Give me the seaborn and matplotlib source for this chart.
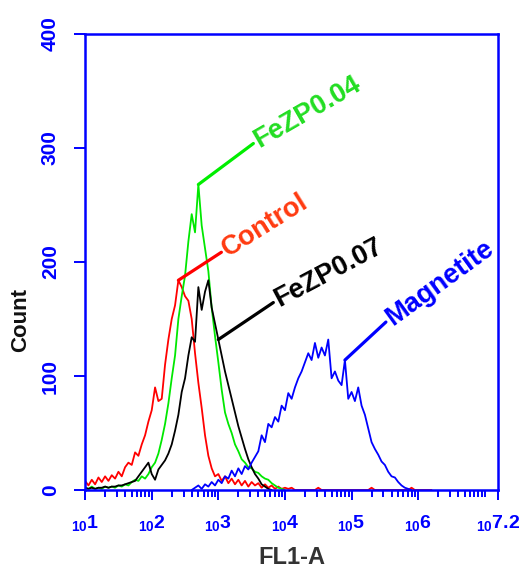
import numpy as np
import pandas as pd
import matplotlib
matplotlib.use("Agg")
import matplotlib.pyplot as plt
import matplotlib.ticker as mticker
import seaborn as sns

# Flow cytometry histograms: counts per channel, channels spaced 0.05 decade apart
CHANNEL_STEP = 0.05

control_start = 1.00
control_counts = [8, 4, 9, 5, 11, 7, 12, 8, 13, 10, 16, 12, 20, 24, 22, 33, 30, 40,
                  48, 60, 70, 90, 78, 80, 110, 132, 150, 162, 184, 178, 170, 166,
                  150, 120, 94, 72, 48, 30, 19, 12, 14, 8, 12, 6, 10, 5, 9, 4, 8, 3,
                  7, 4, 6, 2, 5, 2, 4, 1, 3, 1, 2, 1, 2, 0, 0, 0, 0, 0, 0, 0, 2, 0,
                  0, 0, 0, 0, 0, 0, 0, 0, 0, 0, 0, 0, 0, 0, 2, 0, 0, 0, 0, 0, 0, 0,
                  0, 0, 0, 0, 2, 0, 0, 0, 0, 0, 0]

fezp004_start = 1.00
fezp004_counts = [2, 1, 3, 1, 2, 1, 3, 2, 3, 2, 4, 3, 5, 4, 7, 9, 8, 12, 10, 14, 20,
                  24, 32, 44, 58, 76, 98, 118, 150, 170, 188, 218, 242, 226, 268,
                  232, 212, 192, 160, 135, 112, 88, 68, 58, 50, 40, 34, 27, 24, 20,
                  19, 16, 15, 12, 10, 9, 6, 4, 2, 1, 0]

fezp007_start = 1.00
fezp007_counts = [2, 1, 2, 1, 2, 2, 3, 2, 3, 3, 4, 4, 5, 6, 7, 8, 12, 16, 20, 24, 14,
                  9, 18, 22, 26, 32, 40, 52, 66, 86, 98, 118, 134, 130, 178, 158,
                  174, 184, 160, 146, 132, 118, 104, 92, 80, 68, 56, 46, 36, 27, 20,
                  14, 10, 5, 3, 1, 0]

magnetite_start = 2.60
magnetite_counts = [0, 2, 4, 1, 5, 3, 7, 4, 9, 6, 12, 10, 17, 12, 19, 14, 21, 18, 24,
                    29, 34, 48, 42, 58, 55, 64, 60, 74, 70, 85, 80, 90, 98, 104, 112,
                    120, 114, 129, 116, 125, 118, 132, 98, 104, 96, 92, 114, 80, 86,
                    78, 90, 74, 66, 54, 42, 36, 31, 25, 22, 16, 12, 11, 7, 4, 2, 1, 0]

samples = ["Control", "FeZP0.04", "FeZP0.07", "Magnetite"]
starts = [control_start, fezp004_start, fezp007_start, magnetite_start]
counts = [control_counts, fezp004_counts, fezp007_counts, magnetite_counts]
line_colors = ["#ff0000", "#00e800", "#000000", "#0000ff"]
text_colors = ["#ff3a10", "#22dd22", "#000000", "#0000ff"]

frames = []
for name, start, cnt in zip(samples, starts, counts):
    exps = start + CHANNEL_STEP * np.arange(len(cnt))
    frames.append(pd.DataFrame({"fl1a": 10.0 ** exps, "count": cnt, "sample": name}))
df = pd.concat(frames, ignore_index=True)

sns.set_style("ticks")
plt.rcParams["font.family"] = ["Liberation Sans", "DejaVu Sans"]
plt.rcParams["mathtext.fontset"] = "custom"
plt.rcParams["mathtext.rm"] = "Liberation Sans:bold"
plt.rcParams["mathtext.it"] = "Liberation Sans:bold"
plt.rcParams["mathtext.bf"] = "Liberation Sans:bold"

BLUE = "#0000ff"

fig = plt.figure(figsize=(5.19, 5.68), dpi=100)
ax = fig.add_axes([0.164, 0.1373, 0.7958, 0.8028])

sns.lineplot(data=df, x="fl1a", y="count", hue="sample", hue_order=samples,
             palette=dict(zip(samples, line_colors)), estimator=None, sort=False,
             legend=False, lw=1.3, ax=ax)

ax.set_xscale("log")
ax.set_xlim(10 ** 1, 10 ** 7.2)
ax.set_ylim(0, 400)

# spines: full blue box
for side in ["left", "right", "top", "bottom"]:
    ax.spines[side].set_visible(True)
    ax.spines[side].set_color(BLUE)
    ax.spines[side].set_linewidth(1.8)

# x ticks: decades plus the axis end at 10^7.2
major_pos = [10.0 ** k for k in range(1, 7)] + [10 ** 7.2]
major_lab = [r"$\mathrm{{}_{10}%d}$" % k for k in range(1, 7)] + [r"$\mathrm{{}_{10}7.2}$"]
ax.xaxis.set_major_locator(mticker.FixedLocator(major_pos))
ax.xaxis.set_major_formatter(mticker.FixedFormatter(major_lab))
minor_pos = [m * 10.0 ** k for k in range(1, 7) for m in range(2, 10)] + [1e7]
ax.xaxis.set_minor_locator(mticker.FixedLocator(minor_pos))
ax.xaxis.set_minor_formatter(mticker.NullFormatter())
ax.tick_params(axis="x", which="major", direction="out", length=7.5, width=1.4,
               color=BLUE, labelcolor=BLUE, labelsize=14, pad=9, top=False)
ax.tick_params(axis="x", which="minor", direction="out", length=5, width=1.4,
               color=BLUE, top=False)

ax.set_yticks([0, 100, 200, 300, 400])
ax.tick_params(axis="y", which="major", direction="out", length=8, width=1.4,
               color=BLUE, labelcolor=BLUE, labelsize=15, pad=17, right=False)
for lab in ax.get_yticklabels():
    lab.set_rotation(90)
    lab.set_va("center")
    lab.set_ha("center")
    lab.set_fontweight("bold")

ax.set_xlabel("FL1-A", fontsize=17, fontweight="bold", color="#333333")
ax.xaxis.set_label_coords(0.5, -0.147)
ax.xaxis.label.set_va("center")
ax.set_ylabel("Count", fontsize=16, fontweight="bold", color="#111111")
ax.yaxis.set_label_coords(-0.157, 0.373)
ax.yaxis.label.set_va("center")

# leader lines and rotated sample names
def label_curve(name, exp_pos, line_c, text_c, dx, dy, angle):
    idx = samples.index(name)
    cnt = counts[idx]
    i = int(round((exp_pos - starts[idx]) / CHANNEL_STEP))
    xy = (10.0 ** (starts[idx] + CHANNEL_STEP * i), cnt[i])
    ax.annotate("", xy=xy, xytext=(dx, dy), textcoords="offset pixels",
                arrowprops=dict(arrowstyle="-", color=line_c, lw=2.3,
                                shrinkA=0, shrinkB=0))
    rad = np.deg2rad(angle)
    ax.annotate(name, xy=xy, xytext=(dx + 3 * np.cos(rad), dy + 3 * np.sin(rad)),
                textcoords="offset pixels", rotation=angle, rotation_mode="anchor",
                ha="left", va="center", fontsize=19.5, fontweight="bold", color=text_c)

label_curve("FeZP0.04", 2.70, "#00ee00", text_colors[1], 55, 41, 30)
label_curve("Control", 2.40, "#ff0000", text_colors[0], 43, 28, 32)
label_curve("FeZP0.07", 3.00, "#000000", text_colors[2], 55, 37, 28)
label_curve("Magnetite", 4.90, BLUE, text_colors[3], 41, 38, 36)

fig.savefig("out.png", dpi=100)
